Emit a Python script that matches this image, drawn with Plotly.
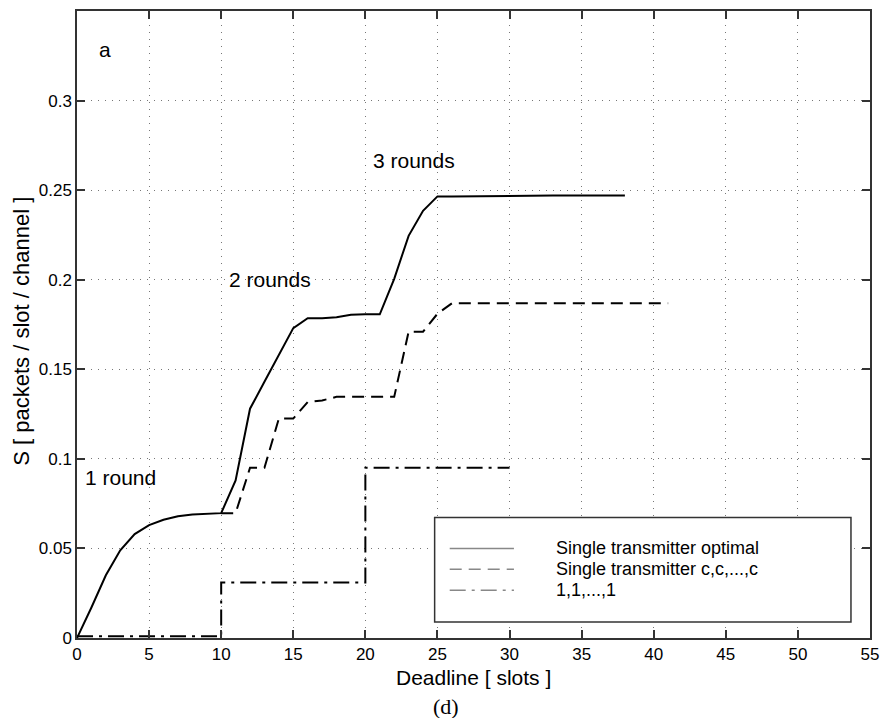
import plotly.graph_objects as go

# ---- data ----
deadline_opt = list(range(0, 39))
s_opt = [0.0, 0.017, 0.035, 0.049, 0.058, 0.063, 0.066, 0.068, 0.069, 0.0695,
         0.0697, 0.088, 0.128, 0.143, 0.158, 0.173, 0.1785, 0.1785, 0.179, 0.1805,
         0.1807, 0.1807, 0.2005, 0.2245, 0.2385, 0.2465, 0.2465, 0.2466, 0.2468, 0.247,
         0.247, 0.247, 0.247, 0.247, 0.247, 0.247, 0.247, 0.247, 0.247]

deadline_ccc = list(range(10, 42))
s_ccc = [0.0697, 0.0697, 0.095, 0.095, 0.1225, 0.1225, 0.1317, 0.1326, 0.1346, 0.1346,
         0.1346, 0.1346, 0.1346, 0.171, 0.171, 0.181, 0.1868, 0.1868, 0.1868, 0.1868,
         0.1868, 0.1868, 0.1868, 0.1868, 0.1868, 0.1868, 0.1868, 0.1868, 0.1868, 0.1868,
         0.1868, 0.1868]

deadline_111 = [0, 10, 20, 30]
s_111 = [0.001, 0.031, 0.095, 0.095]

x_ticks = [0, 5, 10, 15, 20, 25, 30, 35, 40, 45, 50, 55]
y_ticks = [0, 0.05, 0.1, 0.15, 0.2, 0.25, 0.3]
y_tick_labels = ["0", "0.05", "0.1", "0.15", "0.2", "0.25", "0.3"]

legend_labels = ["Single transmitter optimal", "Single transmitter c,c,...,c", "1,1,...,1"]
region_labels = ["1 round", "2 rounds", "3 rounds"]
region_x = [3.0, 13.4, 23.4]
region_y = [0.0896, 0.2, 0.2667]

FONT = "Liberation Sans, Arial, Helvetica, sans-serif"
DASH = "12px,7px"
DASHDOT = "16px,6px,3px,6px"

fig = go.Figure()
fig.add_trace(go.Scatter(x=deadline_opt, y=s_opt, mode="lines",
                         line=dict(color="black", width=2), name=legend_labels[0]))
fig.add_trace(go.Scatter(x=deadline_ccc, y=s_ccc, mode="lines",
                         line=dict(color="black", width=2, dash=DASH), name=legend_labels[1]))
fig.add_trace(go.Scatter(x=deadline_111, y=s_111, mode="lines", line_shape="hv",
                         line=dict(color="black", width=2, dash=DASHDOT), name=legend_labels[2]))

axis_common = dict(
    showgrid=True, gridcolor="#777", gridwidth=1, griddash="1px,6px",
    zeroline=False, showline=True, linecolor="#333", linewidth=1.5,
    mirror="allticks", ticks="inside", ticklen=8, tickcolor="#333", tickwidth=1.5,
    tickfont=dict(family=FONT, size=17, color="black"),
)

fig.update_xaxes(range=[0, 55], tickvals=x_ticks, **axis_common)
fig.update_yaxes(range=[0, 0.35], tickvals=y_ticks, ticktext=y_tick_labels, **axis_common)

annotations = []
for t, xv, yv in zip(region_labels, region_x, region_y):
    annotations.append(dict(x=xv, y=yv, xref="x", yref="y", text=t, showarrow=False,
                            font=dict(family=FONT, size=21, color="black")))
annotations.append(dict(x=1.93, y=0.3285, xref="x", yref="y", text="a", showarrow=False,
                        font=dict(family=FONT, size=21, color="black")))
# axis titles
annotations.append(dict(x=0.5, y=-0.0636, xref="paper", yref="paper", text="Deadline [ slots ]",
                        showarrow=False, yanchor="middle",
                        font=dict(family=FONT, size=21, color="black")))
annotations.append(dict(x=-0.0694, y=0.49, xref="paper", yref="paper",
                        text="S [ packets / slot / channel ]", textangle=-90,
                        showarrow=False, xanchor="center",
                        font=dict(family=FONT, size=22, color="black")))
# caption
annotations.append(dict(x=0.465, y=-0.1097, xref="paper", yref="paper",
                        text="(d)", showarrow=False, yanchor="middle",
                        font=dict(family="Liberation Serif, Times New Roman, serif", size=22,
                                  color="black")))

# manual legend box
shapes = [dict(type="rect", xref="paper", yref="paper", x0=0.451, x1=0.976, y0=0.0254, y1=0.192,
               line=dict(color="#333", width=1.5), fillcolor="white", layer="above")]
leg_y = [0.1429, 0.1095, 0.0762]
leg_dash = ["solid", DASH, DASHDOT]
for lab, ly, dsh in zip(legend_labels, leg_y, leg_dash):
    shapes.append(dict(type="line", xref="paper", yref="paper", x0=0.47, x1=0.551, y0=ly, y1=ly,
                       line=dict(color="#888", width=1.5, dash=dsh), layer="above"))
    annotations.append(dict(x=0.6015, y=ly, xref="paper", yref="paper", text=lab,
                            showarrow=False, xanchor="left", yanchor="middle",
                            font=dict(family=FONT, size=18, color="black")))

# the page body has an 8px margin: size the figure to fit the window without scrolling
fig.update_layout(
    width=872, height=710,
    margin=dict(l=69, r=10, t=1, b=80),
    plot_bgcolor="white", paper_bgcolor="white",
    showlegend=False,
    annotations=annotations, shapes=shapes,
)

fig.write_html("out.html")
